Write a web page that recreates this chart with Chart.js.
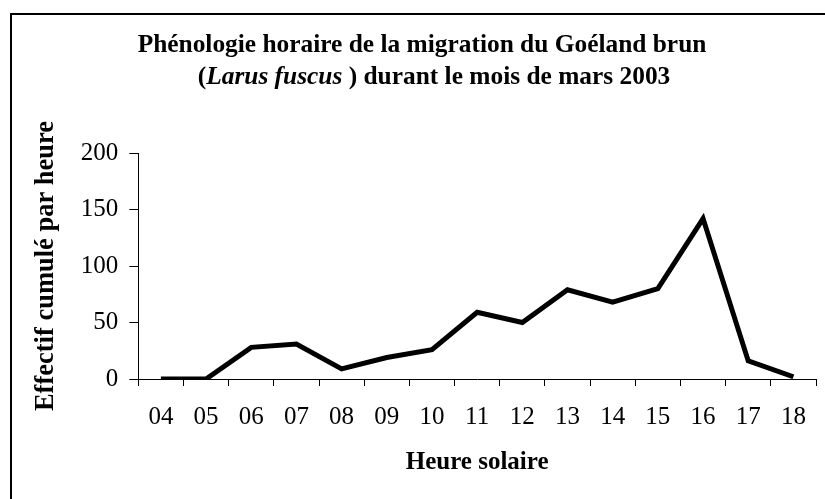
<!DOCTYPE html>
<html>
<head>
<meta charset="utf-8">
<script src="https://cdn.jsdelivr.net/npm/chart.js@4"></script>
<style>
  html, body { margin: 0; padding: 0; background: #fff; }
  #wrap { position: relative; width: 825px; height: 499px; overflow: hidden; }
  #frame { position: absolute; left: 10px; top: 13px; width: 900px; height: 600px;
           border-top: 2px solid #000; border-left: 2px solid #000; pointer-events: none; }
  canvas { position: absolute; left: 0; top: 0; }
</style>
</head>
<body>
<div id="wrap">
  <canvas id="c" width="825" height="499"></canvas>
  <div id="frame"></div>
</div>
<script>
const hours = ['04','05','06','07','08','09','10','11','12','13','14','15','16','17','18'];
const counts = [0, 0, 28, 31, 9, 19, 26, 59, 50, 79, 68, 80, 142, 16, 2];
const yTicks = [0, 50, 100, 150, 200];
const titleLine1 = 'Phénologie horaire de la migration du Goéland brun';
const titleLine2 = [
  { text: '(', italic: false },
  { text: 'Larus fuscus', italic: true },
  { text: ' ) durant le mois de mars 2003', italic: false }
];
const xTitle = 'Heure solaire';
const yTitle = 'Effectif cumulé par heure';

const SERIF = "'Liberation Serif', 'Times New Roman', serif";

const titlePlugin = {
  id: 'mixedTitle',
  afterDraw(chart) {
    const ctx = chart.ctx;
    ctx.save();
    ctx.fillStyle = '#000';
    ctx.textBaseline = 'alphabetic';
    const size = 25.4;
    const fUp = `bold ${size}px ${SERIF}`;
    const fIt = `italic bold ${size}px ${SERIF}`;
    ctx.font = fUp;
    const w1 = ctx.measureText(titleLine1).width;
    ctx.textAlign = 'left';
    ctx.fillText(titleLine1, 422 - w1 / 2, 52);
    let total = 0;
    const widths = titleLine2.map(s => { ctx.font = s.italic ? fIt : fUp; const w = ctx.measureText(s.text).width; total += w; return w; });
    let x = 434 - total / 2;
    titleLine2.forEach((s, i) => { ctx.font = s.italic ? fIt : fUp; ctx.fillText(s.text, x, 84); x += widths[i]; });
    ctx.restore();
  }
};

new Chart(document.getElementById('c'), {
  type: 'line',
  data: {
    labels: hours,
    datasets: [{
      data: counts,
      borderColor: '#000',
      borderWidth: 5,
      pointRadius: 0,
      tension: 0,
      borderJoinStyle: 'miter',
      fill: false
    }]
  },
  options: {
    responsive: false,
    animation: false,
    events: [],
    layout: { padding: { top: 153, right: 9, bottom: 0, left: 0 } },
    plugins: { legend: { display: false }, tooltip: { enabled: false }, title: { display: false } },
    scales: {
      x: {
        offset: true,
        grid: { display: true, offset: true, drawOnChartArea: false, drawTicks: true, tickLength: 7, color: '#000', lineWidth: 1 },
        border: { display: true, color: '#000', width: 1 },
        ticks: { color: '#000', font: { family: SERIF, size: 25 }, padding: 16, maxRotation: 0, autoSkip: false },
        title: { display: true, text: xTitle, color: '#000', font: { family: SERIF, size: 25, weight: 'bold' }, padding: { top: 0, bottom: 21 } }
      },
      y: {
        min: 0, max: 200,
        afterBuildTicks(scale) { scale.ticks = yTicks.map(v => ({ value: v })); },
        grid: { display: true, drawOnChartArea: false, drawTicks: true, tickLength: 9, color: '#000', lineWidth: 1 },
        border: { display: true, color: '#000', width: 1 },
        ticks: { color: '#000', font: { family: SERIF, size: 25 }, padding: 11 },
        title: { display: true, text: yTitle, color: '#000', font: { family: SERIF, size: 26.5, weight: 'bold' }, padding: { top: 30, bottom: 8 } }
      }
    }
  },
  plugins: [titlePlugin]
});
</script>
</body>
</html>
